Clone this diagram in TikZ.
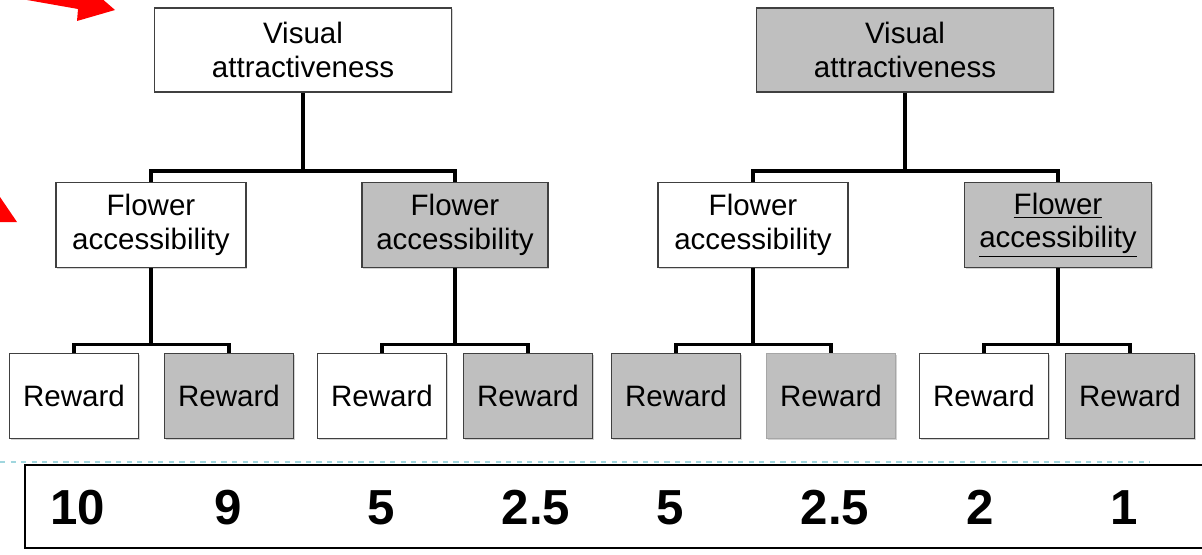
\documentclass[tikz,border=0pt]{standalone}
\usepackage{fontspec}
\setmainfont{Liberation Sans}
\usepackage{tikz}
\usetikzlibrary{positioning,calc,shadows}

\definecolor{boxgray}{RGB}{191,191,191}
\definecolor{edgegray}{RGB}{64,64,64}
\definecolor{guideblue}{RGB}{160,214,222}

\begin{document}
\begin{tikzpicture}[
  x=0.2mm, y=-0.2mm,
  box/.style={draw=edgegray, line width=0.9pt, align=center, inner sep=0pt,
    font=\fontsize{16.8}{19}\selectfont, drop shadow={opacity=0.35, shadow xshift=0.6pt, shadow yshift=-0.8pt}},
  topbox/.style={box, minimum width=5.94cm, minimum height=1.68cm},
  midbox/.style={box, minimum width=3.8cm, minimum height=1.7cm},
  rewbox/.style={box, minimum width=2.58cm, minimum height=1.7cm},
  conn/.style={line width=1.8pt, line join=miter},
  num/.style={anchor=base, font=\fontsize{28}{30}\selectfont\bfseries}
]
\useasboundingbox (0,0) rectangle (1202,555);

% red arrows at the left margin
\fill[red] (25,-3) -- (27,0) -- (78,9) -- (77,21) -- (115,10) -- (100,-3) -- cycle;
\fill[red] (0,197) -- (17,222) -- (0,222) -- cycle;

% top level
\node[topbox, fill=white] (va1) at (303,50) {Visual\\attractiveness};
\node[topbox, fill=boxgray] (va2) at (905,50) {Visual\\attractiveness};

% second level
\node[midbox, fill=white] (fa1) at (151,225) {Flower\\accessibility};
\node[midbox, fill=boxgray, minimum width=3.72cm] (fa2) at (455,225) {Flower\\accessibility};
\node[midbox, fill=white] (fa3) at (753,225) {Flower\\accessibility};
\node[midbox, fill=boxgray, minimum width=3.74cm] (fa4) at (1058,225) {\underline{Flower}\\\underline{accessibility}};

% third level
\node[rewbox, fill=white] (rw1) at (74,396) {Reward};
\node[rewbox, fill=boxgray] (rw2) at (229,396) {Reward};
\node[rewbox, fill=white] (rw3) at (382,396) {Reward};
\node[rewbox, fill=boxgray] (rw4) at (528,396) {Reward};
\node[rewbox, fill=boxgray] (rw5) at (676,396) {Reward};
\node[rewbox, fill=boxgray, draw=gray!70] (rw6) at (831,396) {Reward};
\node[rewbox, fill=white] (rw7) at (984,396) {Reward};
\node[rewbox, fill=boxgray] (rw8) at (1130,396) {Reward};

% tree connectors
\coordinate (j1) at (303,171);
\coordinate (j2) at (905,171);
\draw[conn] (va1.south) -- (j1);
\draw[conn] (fa1.north) |- (j1) -| (fa2.north);
\draw[conn] (va2.south) -- (j2);
\draw[conn] (fa3.north) |- (j2) -| (fa4.north);

\foreach \f/\a/\b in {fa1/rw1/rw2, fa2/rw3/rw4, fa3/rw5/rw6, fa4/rw7/rw8}{
  \coordinate (j-\f) at ($(\f.south)+(0,76)$);
  \draw[conn] (\f.south) -- (j-\f);
  \draw[conn] (\a.north) |- (j-\f) -| (\b.north);
}

% guide line and score row
\draw[guideblue, dashed, line width=0.8pt] (0,462) -- (1150,462);
\draw[line width=1.7pt] (1210,465) -| (25,548) -- (1210,548);
\node[num] (n1) at (78,524) {10};
\node[num] (n2) at (228,524) {9};
\node[num] (n3) at (381,524) {5};
\node[num] (n4) at (536,524) {2.5};
\node[num] (n5) at (670,524) {5};
\node[num] (n6) at (835,524) {2.5};
\node[num] (n7) at (980,524) {2};
\node[num] (n8) at (1124,524) {1};
\end{tikzpicture}
\end{document}
